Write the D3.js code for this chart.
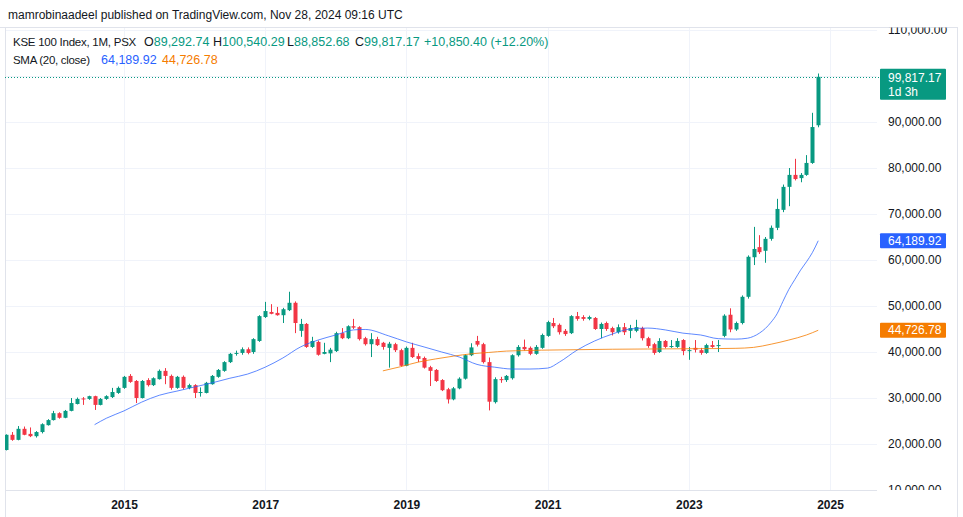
<!DOCTYPE html>
<html><head><meta charset="utf-8">
<script src="https://cdn.jsdelivr.net/npm/d3@7"></script>
<style>
html,body{margin:0;padding:0;background:#fff;}
svg{display:block;font-family:"Liberation Sans",Arial,sans-serif;}
</style>
</head><body>
<svg id="c" width="963" height="517"></svg>
<script>
// ---------- DATA ----------
const months = ["2013-05","2013-06","2013-07","2013-08","2013-09","2013-10","2013-11","2013-12",
"2014-01","2014-02","2014-03","2014-04","2014-05","2014-06","2014-07","2014-08","2014-09","2014-10","2014-11","2014-12",
"2015-01","2015-02","2015-03","2015-04","2015-05","2015-06","2015-07","2015-08","2015-09","2015-10","2015-11","2015-12",
"2016-01","2016-02","2016-03","2016-04","2016-05","2016-06","2016-07","2016-08","2016-09","2016-10","2016-11","2016-12",
"2017-01","2017-02","2017-03","2017-04","2017-05","2017-06","2017-07","2017-08","2017-09","2017-10","2017-11","2017-12",
"2018-01","2018-02","2018-03","2018-04","2018-05","2018-06","2018-07","2018-08","2018-09","2018-10","2018-11","2018-12",
"2019-01","2019-02","2019-03","2019-04","2019-05","2019-06","2019-07","2019-08","2019-09","2019-10","2019-11","2019-12",
"2020-01","2020-02","2020-03","2020-04","2020-05","2020-06","2020-07","2020-08","2020-09","2020-10","2020-11","2020-12",
"2021-01","2021-02","2021-03","2021-04","2021-05","2021-06","2021-07","2021-08","2021-09","2021-10","2021-11","2021-12",
"2022-01","2022-02","2022-03","2022-04","2022-05","2022-06","2022-07","2022-08","2022-09","2022-10","2022-11","2022-12",
"2023-01","2023-02","2023-03","2023-04","2023-05","2023-06","2023-07","2023-08","2023-09","2023-10","2023-11","2023-12",
"2024-01","2024-02","2024-03","2024-04","2024-05","2024-06","2024-07","2024-08","2024-09","2024-10","2024-11"];

const open = [18700,22000,20900,23300,22200,21700,22600,24100,
25200,26700,25700,27200,28700,29900,29800,30400,28500,29800,30200,31100,
32200,34800,33700,30000,33900,32800,34100,35900,34800,32200,34600,32200,
32800,31100,31100,33000,34600,35900,37800,39600,39800,40600,40000,42400,
47600,48700,48500,48000,49100,50700,44600,46100,41100,42200,39600,39700,
40200,44100,43000,45600,45400,43000,41700,42800,42000,40900,41700,40400,
37000,40900,39100,38700,36700,36100,33900,31900,29700,32100,34200,39300,
42400,41700,37800,29100,34100,33900,34300,39300,41100,40900,39600,40900,
43500,46300,45900,44600,44100,47800,47600,47200,47400,45000,46300,45200,
44300,45400,44600,44600,45200,43000,41700,40000,42400,41100,41100,42600,
40200,40900,40400,39800,41500,41300,43500,48100,44900,46300,52000,60600,
62800,62000,64600,67000,70900,75900,78500,77800,78500,81100,89292.74];

const high = [22100,22600,23900,23800,23600,22800,24500,25400,
27200,26900,27400,30000,30100,30200,30500,30500,30000,30600,32200,32500,
34800,35200,33900,33900,34300,34500,36200,36500,35100,34800,34900,33100,
33000,32300,33500,35000,36300,38000,39800,40300,41000,41000,43000,48000,
50900,50400,49800,49600,53100,51000,47200,46300,43300,42500,42000,40900,
44400,45200,45800,47200,45600,43300,44100,43300,42200,42200,42000,40700,
41200,42000,39700,39000,37000,36300,34100,32200,32400,34500,39500,41900,
43500,42000,38800,34500,34600,35000,39500,41500,42700,41200,41500,44000,
46800,47400,46200,45000,48000,48700,48000,47900,47600,46400,46600,45500,
46000,46300,45900,47000,45500,43300,42000,43000,42600,42600,43000,42800,
41100,42600,40900,41800,42400,42600,48200,49500,46600,52300,61000,67200,
65400,65000,67500,73300,76400,80000,82000,78900,82800,92000,100540.29];

const low = [18600,20700,20800,21900,21500,21400,22300,24000,
25100,25500,25600,27100,28600,28500,29600,27400,28400,29600,30000,30900,
32000,33300,28900,29900,32500,32600,34000,33000,31800,32000,31900,31900,
30000,30300,31000,32900,34400,35700,37600,39200,39400,39500,39600,42200,
47400,48200,47900,46300,48900,44100,43300,40900,40900,39200,39500,37800,
40000,42800,42800,45000,42500,41400,38900,41300,40500,36600,40000,36800,
36900,38700,37800,36400,32600,33500,31500,28800,29500,31900,34000,39100,
41200,37500,27300,28800,33300,33500,34000,39000,40300,39300,39400,40700,
43300,45200,43800,43500,43900,46800,46800,46900,44800,43000,44600,43600,
44000,43700,43000,44300,42500,40900,39400,39800,40800,40900,40900,39300,
38300,39900,39400,39600,40900,40000,43200,44300,44600,46000,51600,58900,
61300,59400,64200,66500,70400,71700,77300,76900,78300,80900,88852.68];

const close = [22000,20900,23300,22000,21700,22600,24300,25200,
26700,25700,27200,28900,29800,29700,30400,28500,29800,30400,31300,32200,
34600,33500,30000,33700,32800,34300,35900,34800,32200,34600,32200,32800,
31100,31300,33300,34800,36100,37800,39600,39800,40600,39800,42800,47800,
48900,48300,48000,49300,50700,46300,46100,41100,42400,39400,40000,40500,
44100,43000,45600,45300,42800,41700,42800,41500,41100,41800,40400,37000,
40900,38900,38500,36600,35900,33700,31700,29700,32100,34200,39300,41000,
41600,37800,29200,34100,33900,34800,39300,41100,40600,39600,41100,43700,
46500,45600,44300,43900,47800,47200,47200,47600,45000,46100,45000,44300,
45400,44300,45200,45400,43000,41300,39800,42400,41100,41300,42400,40200,
40400,40500,39800,41500,41100,41500,47900,44900,46300,52000,60700,62400,
61700,64600,67000,71100,75900,78500,77600,78500,81100,88900,99817.17];

// SMA (20, close) – blue
const smaMonths = ["2014-08","2014-10","2015-01","2015-04","2015-07","2015-10","2016-01","2016-04","2016-07","2016-10",
"2017-01","2017-04","2017-07","2017-10","2018-01","2018-04","2018-06","2018-10","2019-01","2019-04","2019-07","2019-10",
"2020-01","2020-04","2020-07","2020-10","2021-01","2021-03","2021-06","2021-09","2021-12","2022-03","2022-06","2022-09",
"2022-12","2023-03","2023-06","2023-09","2023-11","2023-12","2024-01","2024-02","2024-03","2024-04","2024-05","2024-06",
"2024-07","2024-08","2024-09","2024-10","2024-11"];
const smaValues = [24200,25600,27200,29100,30600,31500,32400,33300,34300,35200,
36700,38700,41100,42600,43700,44800,44900,43500,42200,41100,40000,38900,
37300,36700,36300,36300,36500,37800,40400,42400,43900,45000,45200,44800,
44100,43700,42900,42800,43000,43400,44100,45100,46500,48300,51000,53600,
55700,57800,59600,61600,64189.92];

// Smoothing line – orange
const smoothMonths = ["2018-09","2018-12","2019-03","2019-06","2019-09","2019-12","2020-03","2020-06","2020-09","2020-12",
"2021-06","2021-12","2022-06","2022-12","2023-06","2023-09","2023-12","2024-03","2024-06","2024-09","2024-11"];
const smoothValues = [35900,36800,37800,38500,39100,39600,39900,40200,40300,40400,
40500,40600,40650,40700,40750,40800,41000,41700,42600,43700,44726.78];

const yearTicks = [2015, 2017, 2019, 2021, 2023, 2025];
const priceTicks = [10000,20000,30000,40000,50000,60000,70000,80000,90000,100000,110000];
const priceChange = "+10,850.40 (+12.20%)";

// ---------- LAYOUT ----------
const GREEN = "#089981", RED = "#f23645", BLUE = "#2962ff", ORANGE = "#f57c00";
const TXT = "#131722", GRID = "#f0f3fa", BORDER = "#e0e3eb";
const paneL = 5, paneR = 877, paneT = 27, paneB = 490, outerR = 957;

const mIdx = s => { const [yy, mm] = s.split("-").map(Number); return (yy - 2015) * 12 + (mm - 1); };
const x = d3.scaleLinear().domain([0, 120]).range([124, 830]);
const y = d3.scaleLinear().domain([10000, 110000]).range([490, 30]);
const fmt = d3.format(",.2f");

const svg = d3.select("#c");
const defs = svg.append("defs");
defs.append("clipPath").attr("id", "pane").append("rect")
  .attr("x", paneL).attr("y", paneT).attr("width", paneR - paneL).attr("height", paneB - paneT);
defs.append("clipPath").attr("id", "pscale").append("rect")
  .attr("x", paneR).attr("y", paneT + 0.5).attr("width", outerR - paneR).attr("height", paneB - paneT - 0.5);

// grid
const grid = svg.append("g").attr("clip-path", "url(#pane)");
grid.selectAll("line.h").data(priceTicks).join("line")
  .attr("x1", paneL).attr("x2", paneR)
  .attr("y1", d => Math.round(y(d)) + 0.5).attr("y2", d => Math.round(y(d)) + 0.5)
  .attr("stroke", GRID);
grid.selectAll("line.v").data(yearTicks).join("line")
  .attr("x1", d => Math.round(x((d - 2015) * 12)) + 0.5).attr("x2", d => Math.round(x((d - 2015) * 12)) + 0.5)
  .attr("y1", paneT).attr("y2", paneB)
  .attr("stroke", GRID);

// frame
svg.append("line").attr("x1", 0).attr("x2", outerR).attr("y1", paneT + 0.5).attr("y2", paneT + 0.5).attr("stroke", BORDER);
svg.append("line").attr("x1", paneL + 0.5).attr("x2", paneL + 0.5).attr("y1", paneT).attr("y2", 517).attr("stroke", BORDER);
svg.append("line").attr("x1", outerR + 0.5).attr("x2", outerR + 0.5).attr("y1", paneT).attr("y2", 517).attr("stroke", BORDER);
svg.append("line").attr("x1", paneL).attr("x2", paneR).attr("y1", paneB + 0.5).attr("y2", paneB + 0.5).attr("stroke", BORDER);

// candles
const bars = months.map((m, i) => ({ i: mIdx(m), o: open[i], h: high[i], l: low[i], c: close[i] }));
const plot = svg.append("g").attr("clip-path", "url(#pane)");
const cg = plot.selectAll("g.c").data(bars).join("g");
cg.append("line")
  .attr("x1", d => Math.round(x(d.i)) + 0.5).attr("x2", d => Math.round(x(d.i)) + 0.5)
  .attr("y1", d => y(d.h)).attr("y2", d => y(d.l))
  .attr("stroke", d => d.c >= d.o ? GREEN : RED).attr("stroke-width", 1);
cg.append("rect")
  .attr("x", d => Math.round(x(d.i)) - 1.5).attr("width", 4)
  .attr("y", d => y(Math.max(d.o, d.c)))
  .attr("height", d => Math.max(1, Math.abs(y(d.o) - y(d.c))))
  .attr("fill", d => d.c >= d.o ? GREEN : RED);

// SMA lines
const line = d3.line().x(d => x(d[0])).y(d => y(d[1])).curve(d3.curveMonotoneX);
plot.append("path").datum(smaMonths.map((m, i) => [mIdx(m), smaValues[i]]))
  .attr("d", line).attr("fill", "none").attr("stroke", BLUE).attr("stroke-width", 1).attr("opacity", 0.75);
plot.append("path").datum(smoothMonths.map((m, i) => [mIdx(m), smoothValues[i]]))
  .attr("d", line).attr("fill", "none").attr("stroke", ORANGE).attr("stroke-width", 1).attr("opacity", 0.8);

// last price dotted line
const lastClose = close[close.length - 1];
svg.append("line").attr("x1", paneL).attr("x2", 880)
  .attr("y1", Math.round(y(lastClose)) + 0.5).attr("y2", Math.round(y(lastClose)) + 0.5)
  .attr("stroke", GREEN).attr("stroke-dasharray", "1,2");

// price axis (labels hidden behind the last-price badge are skipped)
const shownTicks = priceTicks.filter(v => Math.abs(y(v) - y(lastClose)) > 16);
const pa = svg.append("g").attr("clip-path", "url(#pscale)")
  .append("g").attr("transform", `translate(${885},0)`)
  .call(d3.axisRight(y).tickValues(shownTicks).tickFormat(fmt).tickSize(0).tickPadding(3));
pa.select(".domain").remove();
pa.selectAll("text").attr("fill", TXT).style("font-size", "12px").style("font-family", "Liberation Sans, Arial, sans-serif");

// time axis
const ta = svg.append("g").attr("transform", `translate(0,${paneB})`)
  .call(d3.axisBottom(x).tickValues(yearTicks.map(v => (v - 2015) * 12)).tickFormat(d => String(2015 + d / 12)).tickSize(0).tickPadding(10));
ta.select(".domain").remove();
ta.selectAll("text").attr("fill", TXT).style("font-size", "12px").style("font-weight", "bold").style("font-family", "Liberation Sans, Arial, sans-serif");

// price badges
function badge(v, color, h, lines) {
  const cy = y(v);
  const top = lines.length > 1 ? cy - 8 : cy - h / 2;
  const g = svg.append("g");
  g.append("rect").attr("x", 880).attr("y", top).attr("width", 66).attr("height", h)
    .attr("fill", color).attr("rx", 1);
  lines.forEach((t, k) => {
    g.append("text").attr("x", 888).attr("y", top + h / (lines.length * 2) + k * 14 + (lines.length > 1 ? 1 : 0)).attr("dy", "0.35em")
      .attr("fill", "#fff").style("font-size", "12px").text(t);
  });
}
badge(lastClose, GREEN, 31, [fmt(lastClose), "1d 3h"]);
badge(smaValues[smaValues.length - 1], BLUE, 15, [fmt(smaValues[smaValues.length - 1])]);
badge(smoothValues[smoothValues.length - 1], ORANGE, 15, [fmt(smoothValues[smoothValues.length - 1])]);

// header
svg.append("text").attr("x", 8).attr("y", 19).attr("fill", TXT).style("font-size", "12px")
  .text("mamrobinaadeel published on TradingView.com, Nov 28, 2024 09:16 UTC");

// legend line 1
const last = bars[bars.length - 1];
const lg = svg.append("g").style("font-size", "12.5px");
lg.append("text").attr("x", 13).attr("y", 46).attr("fill", TXT)
  .style("font-size", "11.5px").style("letter-spacing", "-0.25px").text("KSE 100 Index, 1M, PSX");
const ohlc = [["O", last.o, 144], ["H", last.h, 213], ["L", last.l, 287], ["C", last.c, 355]];
ohlc.forEach(([k, v, px]) => {
  const t = lg.append("text").attr("x", px).attr("y", 46);
  t.append("tspan").attr("fill", TXT).text(k);
  t.append("tspan").attr("fill", GREEN).text(fmt(v));
});
lg.append("text").attr("x", 424).attr("y", 46).attr("fill", GREEN).text(priceChange);

// legend line 2
lg.append("text").attr("x", 13).attr("y", 64).attr("fill", TXT)
  .style("font-size", "11.5px").style("letter-spacing", "-0.3px").text("SMA (20, close)");
lg.append("text").attr("x", 101).attr("y", 64).attr("fill", BLUE).text(fmt(smaValues[smaValues.length - 1]));
lg.append("text").attr("x", 162).attr("y", 64).attr("fill", ORANGE).text(fmt(smoothValues[smoothValues.length - 1]));
</script>
</body></html>
